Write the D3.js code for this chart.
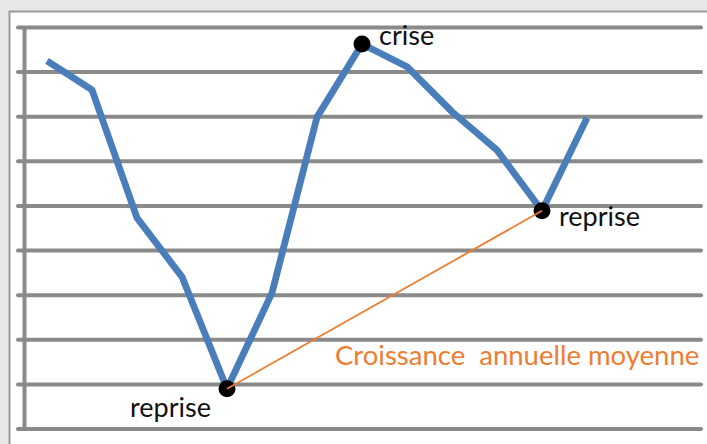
<!DOCTYPE html>
<html>
<head>
<meta charset="utf-8">
<script src="https://cdn.jsdelivr.net/npm/d3@7"></script>
<style>
  html, body { margin: 0; padding: 0; background: #e7e8ea; }
  svg { display: block; }
  text { font-family: Lato, "Open Sans", sans-serif; }
</style>
</head>
<body>
<svg id="chart"></svg>
<script>
// periods along the x axis and the curve's values (gridline units)
const periods = d3.range(13);
const values = [8.24, 7.59, 4.72, 3.40, 0.89, 3.04, 6.98, 8.62, 8.11, 7.10, 6.24, 4.88, 6.96];
const gridTicks = d3.range(0, 10);

// marked points
const markers = [
  { i: 4, label: 'reprise' },
  { i: 7, label: 'crise' },
  { i: 11, label: 'reprise' }
];
const trendLabel = 'Croissance  annuelle moyenne';

const width = 707;
const height = 444;

const svg = d3.select('#chart').attr('width', width).attr('height', height);

// white panel (runs off the right and bottom edges)
svg.append('rect')
  .attr('x', 9.5).attr('y', 11.5)
  .attr('width', width).attr('height', height)
  .attr('fill', '#fff')
  .attr('stroke', '#9a9a9a')
  .attr('stroke-width', 2);

const xScale = d3.scaleLinear().domain([0, 12]).range([47, 587]);
const yScale = d3.scaleLinear().domain([0, 9]).range([428.5, 27]);

// gridlines + vertical axis line
const grid = svg.append('g')
  .attr('transform', 'translate(24,0)')
  .call(d3.axisLeft(yScale).tickValues(gridTicks).tickFormat('')
    .tickSize(-(701 - 24)).tickSizeOuter(0));

grid.selectAll('.tick line')
  .attr('x1', -6)
  .attr('stroke', '#8a8a8a')
  .attr('stroke-width', 4)
  .attr('stroke-linecap', 'round');
grid.select('.domain')
  .attr('stroke', '#8a8a8a')
  .attr('stroke-width', 4);

const line = d3.line()
  .x((d, i) => xScale(periods[i]))
  .y((d) => yScale(d));

svg.append('path')
  .datum(values)
  .attr('d', line)
  .attr('fill', 'none')
  .attr('stroke', '#4a7ebb')
  .attr('stroke-width', 6.8)
  .attr('stroke-linejoin', 'round');

svg.selectAll('circle.mark')
  .data(markers)
  .join('circle')
  .attr('class', 'mark')
  .attr('cx', (d) => xScale(d.i))
  .attr('cy', (d) => yScale(values[d.i]))
  .attr('r', 8.5)
  .attr('fill', '#000');

// average-growth trend between the two reprises
const a = markers[0].i, b = markers[2].i;
svg.append('line')
  .attr('x1', xScale(a)).attr('y1', yScale(values[a]))
  .attr('x2', xScale(b)).attr('y2', yScale(values[b]))
  .attr('stroke', '#ed7d31')
  .attr('stroke-width', 1.8);

const labelOffsets = [
  { dx: -97, dy: 28 },
  { dx: 17, dy: 1 },
  { dx: 17, dy: 15 }
];

svg.selectAll('text.mark')
  .data(markers)
  .join('text')
  .attr('class', 'mark')
  .attr('x', (d, k) => xScale(d.i) + labelOffsets[k].dx)
  .attr('y', (d, k) => yScale(values[d.i]) + labelOffsets[k].dy)
  .attr('font-size', 27)
  .attr('fill', '#111')
  .text((d) => d.label);

svg.append('text')
  .attr('x', 335)
  .attr('y', 365)
  .attr('font-size', 27.5)
  .attr('fill', '#ed7d31')
  .attr('xml:space', 'preserve')
  .style('white-space', 'pre')
  .text(trendLabel);
</script>
</body>
</html>
